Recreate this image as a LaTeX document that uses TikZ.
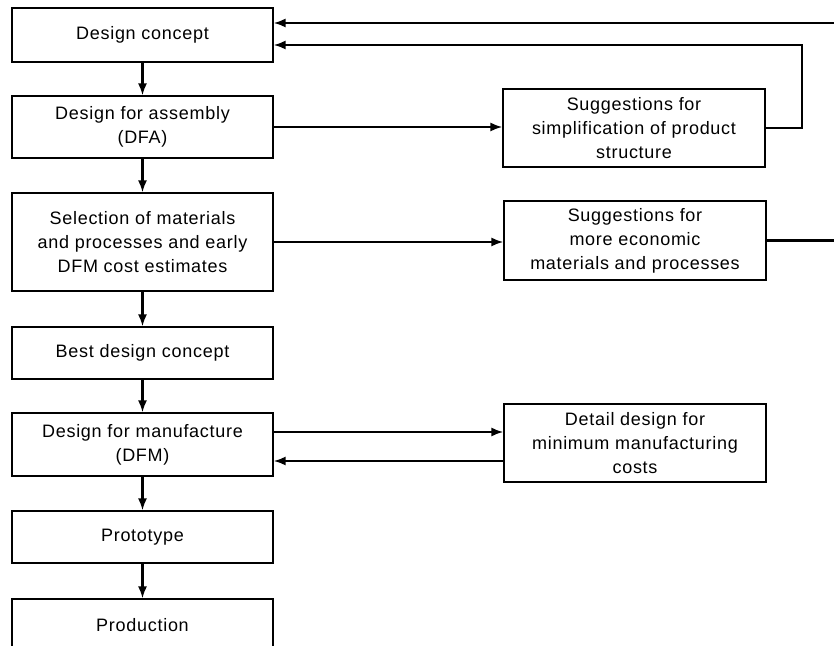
\documentclass[tikz,border=0pt]{standalone}
\usepackage{fontspec}
\setmainfont{Liberation Sans}[LetterSpace=4]
\usetikzlibrary{arrows.meta}
\tikzset{
  stagebox/.style={draw,line width=1.1pt,minimum width=261pt,align=center,inner sep=0pt},
  notebox/.style={draw,line width=1.1pt,minimum width=262pt,align=center,inner sep=0pt},
  flow/.style={draw,line width=2.2pt,-{Latex[length=12pt,width=9pt]}},
  link/.style={draw,line width=2.2pt}
}
\begin{document}
\begin{tikzpicture}[x=1pt,y=1pt,font=\fontsize{18}{24}\selectfont]
\useasboundingbox (0,0) rectangle (834,645);
% main column
\node[stagebox,minimum height=54pt] (concept) at (142.5,610) {Design concept};
\node[stagebox,minimum height=62pt] (dfa) at (142.5,518) {Design for assembly\\(DFA)};
\node[stagebox,minimum height=98pt] (select) at (142.5,403) {Selection of materials\\and processes and early\\DFM cost estimates};
\node[stagebox,minimum height=52pt] (best) at (142.5,292) {Best design concept};
\node[stagebox,minimum height=63pt] (dfm) at (142.5,200.5) {Design for manufacture\\(DFM)};
\node[stagebox,minimum height=52pt] (proto) at (142.5,108) {Prototype};
\node[stagebox,minimum height=52pt] (prod) at (142.5,20) {Production};

% side boxes
\node[notebox,minimum height=78pt] (simplify) at (634,517) {Suggestions for\\simplification of product\\structure};
\node[notebox,minimum height=79pt] (econ) at (635,404.5) {Suggestions for\\more economic\\materials and processes};
\node[notebox,minimum height=78pt] (detail) at (635,202) {Detail design for\\minimum manufacturing\\costs};

\coordinate (topR) at (834,622);
\coordinate (econR) at (834,405);
\coordinate (loopR) at (802,600);
\coordinate (fwdY) at (0,213);
\coordinate (backY) at (0,184);

\draw[flow] (concept) -- (dfa);
\draw[flow] (dfa) -- (select);
\draw[flow] (select) -- (best);
\draw[flow] (best) -- (dfm);
\draw[flow] (dfm) -- (proto);
\draw[flow] (proto) -- (prod);

\draw[flow] (dfa.east) -- (simplify.west |- dfa.east);
\draw[flow] (select.east) -- (econ.west |- select.east);
\draw[flow] (dfm.east |- fwdY) -- (detail.west |- fwdY);
\draw[flow] (detail.west |- backY) -- (dfm.east |- backY);

\draw[link] (econ.east) -- (econ.east -| econR);
\draw[flow] (topR) -- (concept.east |- topR);
\draw[flow] (simplify.east) -| (loopR) -- (concept.east |- loopR);
\end{tikzpicture}
\end{document}
